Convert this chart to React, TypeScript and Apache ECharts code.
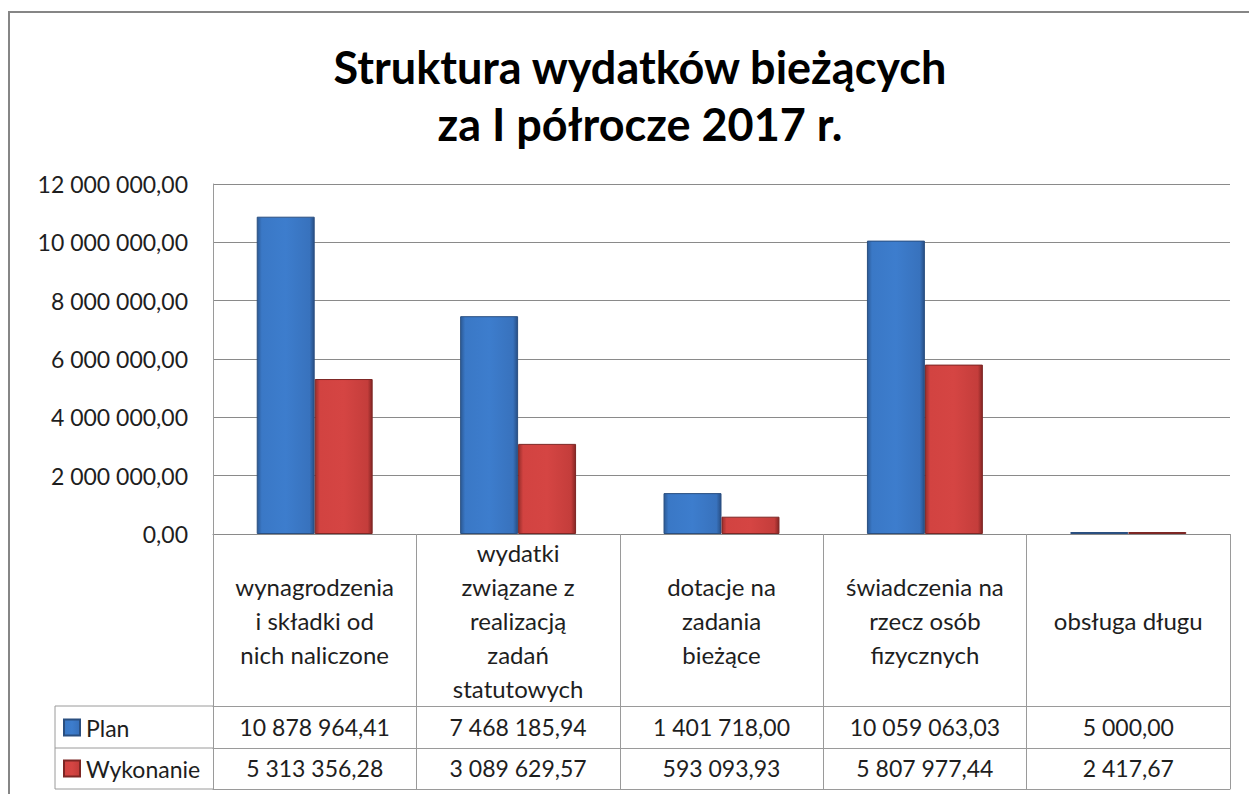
import React, { useEffect, useRef } from "react";
import * as echarts from "echarts";

const titleText = "Struktura wydatków bieżących\nza I półrocze 2017 r.";
const categories = [
  "wynagrodzenia\ni składki od\nnich naliczone",
  "wydatki\nzwiązane z\nrealizacją\nzadań\nstatutowych",
  "dotacje na\nzadania\nbieżące",
  "świadczenia na\nrzecz osób\nfizycznych",
  "obsługa długu",
];
const seriesNames = ["Plan", "Wykonanie"];
const planValues = [10878964.41, 7468185.94, 1401718.0, 10059063.03, 5000.0];
const wykonanieValues = [5313356.28, 3089629.57, 593093.93, 5807977.44, 2417.67];
const yMin = 0;
const yMax = 12000000;
const yInterval = 2000000;

function fmtPL(v: number): string {
  const s = Math.abs(v).toFixed(2);
  const [i, d] = s.split(".");
  const grouped = i.replace(/\B(?=(\d{3})+(?!\d))/g, " ");
  return (v < 0 ? "-" : "") + grouped + "," + d;
}

const FONT = "Lato, 'Open Sans', sans-serif";
const TEXT = "#1e1e1e";
const LINE = "#9a9a9a";

const blueGrad = new echarts.graphic.LinearGradient(0, 0, 1, 0, [
  { offset: 0, color: "#2c5a96" },
  { offset: 0.08, color: "#3a78c6" },
  { offset: 0.5, color: "#3d7dcd" },
  { offset: 0.92, color: "#3872bd" },
  { offset: 1, color: "#284f85" },
]);
const redGrad = new echarts.graphic.LinearGradient(0, 0, 1, 0, [
  { offset: 0, color: "#9a2e2c" },
  { offset: 0.08, color: "#d24341" },
  { offset: 0.5, color: "#d54543" },
  { offset: 0.92, color: "#c43d3b" },
  { offset: 1, color: "#862624" },
]);

export default function App() {
  const ref = useRef<HTMLDivElement>(null);
  useEffect(() => {
    if (!ref.current) return;
    const chart = echarts.init(ref.current, null, { renderer: "svg" });
    const gridTop = 184;
    const gridBottomY = 534;
    const H = 794;
    const labelStyle = { fontFamily: FONT, fontSize: 23, color: TEXT };
    const option: any = {
      animation: false,
      backgroundColor: "#ffffff",
      title: {
        text: titleText,
        left: 635,
        top: 33,
        textAlign: "center",
        textStyle: {
          fontFamily: FONT,
          fontWeight: "bold",
          fontSize: 45,
          lineHeight: 57,
          color: "#000",
        },
      },
      legend: {
        data: seriesNames,
        orient: "vertical",
        left: 63,
        top: 716,
        padding: 0,
        itemWidth: 16,
        itemHeight: 16,
        itemGap: 18,
        icon: "rect",
        textStyle: { fontFamily: FONT, fontSize: 23, color: TEXT, padding: [0, 0, 0, 1] },
      },
      grid: { left: 213, right: 1249 - 1230, top: gridTop, bottom: H - gridBottomY },
      yAxis: {
        type: "value",
        min: yMin,
        max: yMax,
        interval: yInterval,
        axisLine: { show: true, lineStyle: { color: LINE, width: 1 } },
        axisTick: { show: false },
        splitLine: { show: true, lineStyle: { color: "#8a8a8a", width: 1 } },
        axisLabel: { ...labelStyle, margin: 25, formatter: (v: number) => fmtPL(v) },
      },
      xAxis: [
        {
          type: "category",
          data: categories,
          position: "bottom",
          offset: 0,
          axisLine: { show: true, lineStyle: { color: "#8a8a8a", width: 1 } },
          axisTick: { show: true, interval: 0, length: 172, lineStyle: { color: LINE } },
          axisLabel: {
            ...labelStyle,
            fontSize: 24,
            interval: 0,
            margin: 86,
            verticalAlign: "middle",
            lineHeight: 34,
            align: "center",
          },
        },
        {
          type: "category",
          data: categories,
          position: "bottom",
          offset: 172,
          axisLine: { show: true, lineStyle: { color: LINE, width: 1 } },
          axisTick: { show: true, interval: 0, length: 42, lineStyle: { color: LINE } },
          axisLabel: {
            ...labelStyle,
            interval: 0,
            margin: 21,
            verticalAlign: "middle",
            formatter: (_v: string, i: number) => fmtPL(planValues[i]),
          },
        },
        {
          type: "category",
          data: categories,
          position: "bottom",
          offset: 214,
          axisLine: { show: true, lineStyle: { color: LINE, width: 1 } },
          axisTick: { show: true, interval: 0, length: 41, lineStyle: { color: LINE } },
          axisLabel: {
            ...labelStyle,
            interval: 0,
            margin: 20,
            verticalAlign: "middle",
            formatter: (_v: string, i: number) => fmtPL(wykonanieValues[i]),
          },
        },
        {
          type: "category",
          data: categories,
          position: "bottom",
          offset: 255,
          axisLine: { show: true, lineStyle: { color: LINE, width: 1 } },
          axisTick: { show: false },
          axisLabel: { show: false },
        },
      ],
      series: [
        {
          name: seriesNames[0],
          type: "bar",
          data: planValues,
          barGap: "0%",
          barCategoryGap: "43%",
          barMinHeight: 2,
          itemStyle: { color: blueGrad, borderColor: "#2a4f80", borderWidth: 1 },
        },
        {
          name: seriesNames[1],
          type: "bar",
          data: wykonanieValues,
          barGap: "0%",
          barCategoryGap: "43%",
          barMinHeight: 2,
          itemStyle: { color: redGrad, borderColor: "#7d2624", borderWidth: 1 },
        },
      ],
      graphic: [
        {
          type: "rect",
          silent: true,
          shape: { x: 9, y: 12, width: 1400, height: 900 },
          style: { fill: "none", stroke: "#868686", lineWidth: 2 },
        },
        { type: "line", shape: { x1: 55, y1: 706, x2: 213, y2: 706 }, style: { stroke: LINE, lineWidth: 1 } },
        { type: "line", shape: { x1: 55, y1: 748, x2: 213, y2: 748 }, style: { stroke: LINE, lineWidth: 1 } },
        { type: "line", shape: { x1: 55, y1: 789, x2: 213, y2: 789 }, style: { stroke: LINE, lineWidth: 1 } },
        { type: "line", shape: { x1: 55, y1: 706, x2: 55, y2: 789 }, style: { stroke: LINE, lineWidth: 1 } },
      ],
    };
    chart.setOption(option);
    return () => chart.dispose();
  }, []);
  return (
    <div
      ref={ref}
      style={{ position: "absolute", left: 0, top: 0, width: 1249, height: 794, background: "#fff" }}
    />
  );
}
